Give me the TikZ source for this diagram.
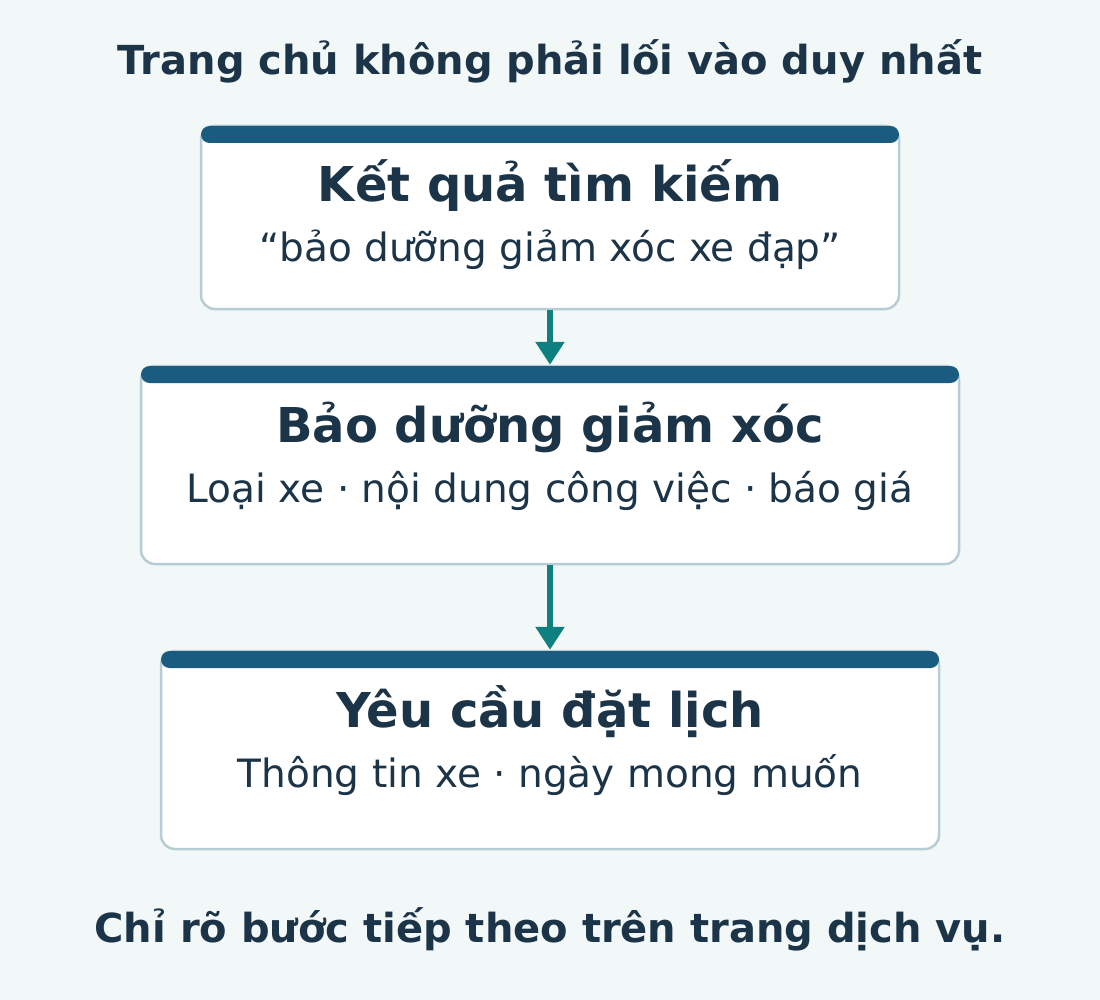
\documentclass[tikz,border=0pt]{standalone}
\usepackage{fontspec}
\setmainfont{DejaVu Sans}
\usetikzlibrary{arrows.meta}
\definecolor{bg}{HTML}{F2F7F8}
\definecolor{bar}{HTML}{1A5C80}
\definecolor{ink}{HTML}{1C3448}
\definecolor{teal}{HTML}{0E8080}
\definecolor{edge}{HTML}{B8CDD3}
\tikzset{
  card/.style={draw=edge, line width=2.5pt, fill=white, rounded corners=14pt, inner sep=0pt},
  topbar/.style={fill=bar, rounded corners=8.5pt},
  flow/.style={draw=teal, line width=6pt, -{Triangle[width=28pt,length=23pt]}},
  heading/.style={anchor=base, text=ink, font=\bfseries\fontsize{40}{48}\selectfont},
  cardtitle/.style={anchor=base, text=ink, font=\bfseries\fontsize{48}{58}\selectfont},
  cardsub/.style={anchor=base, text=ink, font=\fontsize{39}{47}\selectfont},
}
\begin{document}
\begin{tikzpicture}[x=1pt,y=-1pt]
\fill[bg] (0,0) rectangle (1100,1000);
\useasboundingbox (0,0) rectangle (1100,1000);
\node[heading] (title) at (550,75) {Trang chủ không phải lối vào duy nhất};
% cards
\node[card, minimum width=698pt, minimum height=183pt] (c1) at (550,217.5) {};
\fill[topbar] (201,126) rectangle (899,143);
\node[card, minimum width=818pt, minimum height=198pt] (c2) at (550,465) {};
\fill[topbar] (141,366) rectangle (959,383);
\node[card, minimum width=778pt, minimum height=198pt] (c3) at (550,750) {};
\fill[topbar] (161,651) rectangle (939,668);
% texts
\node[cardtitle] (t1) at (550,202) {Kết quả tìm kiếm};
\node[cardsub] (s1) at (550,262) {“bảo dưỡng giảm xóc xe đạp”};
\node[cardtitle] (t2) at (550,442) {Bảo dưỡng giảm xóc};
\node[cardsub] (s2) at (550,502) {Loại xe · nội dung công việc · báo giá};
\node[cardtitle] (t3) at (550,727) {Yêu cầu đặt lịch};
\node[cardsub] (s3) at (550,787) {Thông tin xe · ngày mong muốn};
\node[heading] (foot) at (550,942) {Chỉ rõ bước tiếp theo trên trang dịch vụ.};
% arrows
\draw[flow] (c1.south) -- (c2.north);
\draw[flow] (c2.south) -- (c3.north);
\end{tikzpicture}
\end{document}
